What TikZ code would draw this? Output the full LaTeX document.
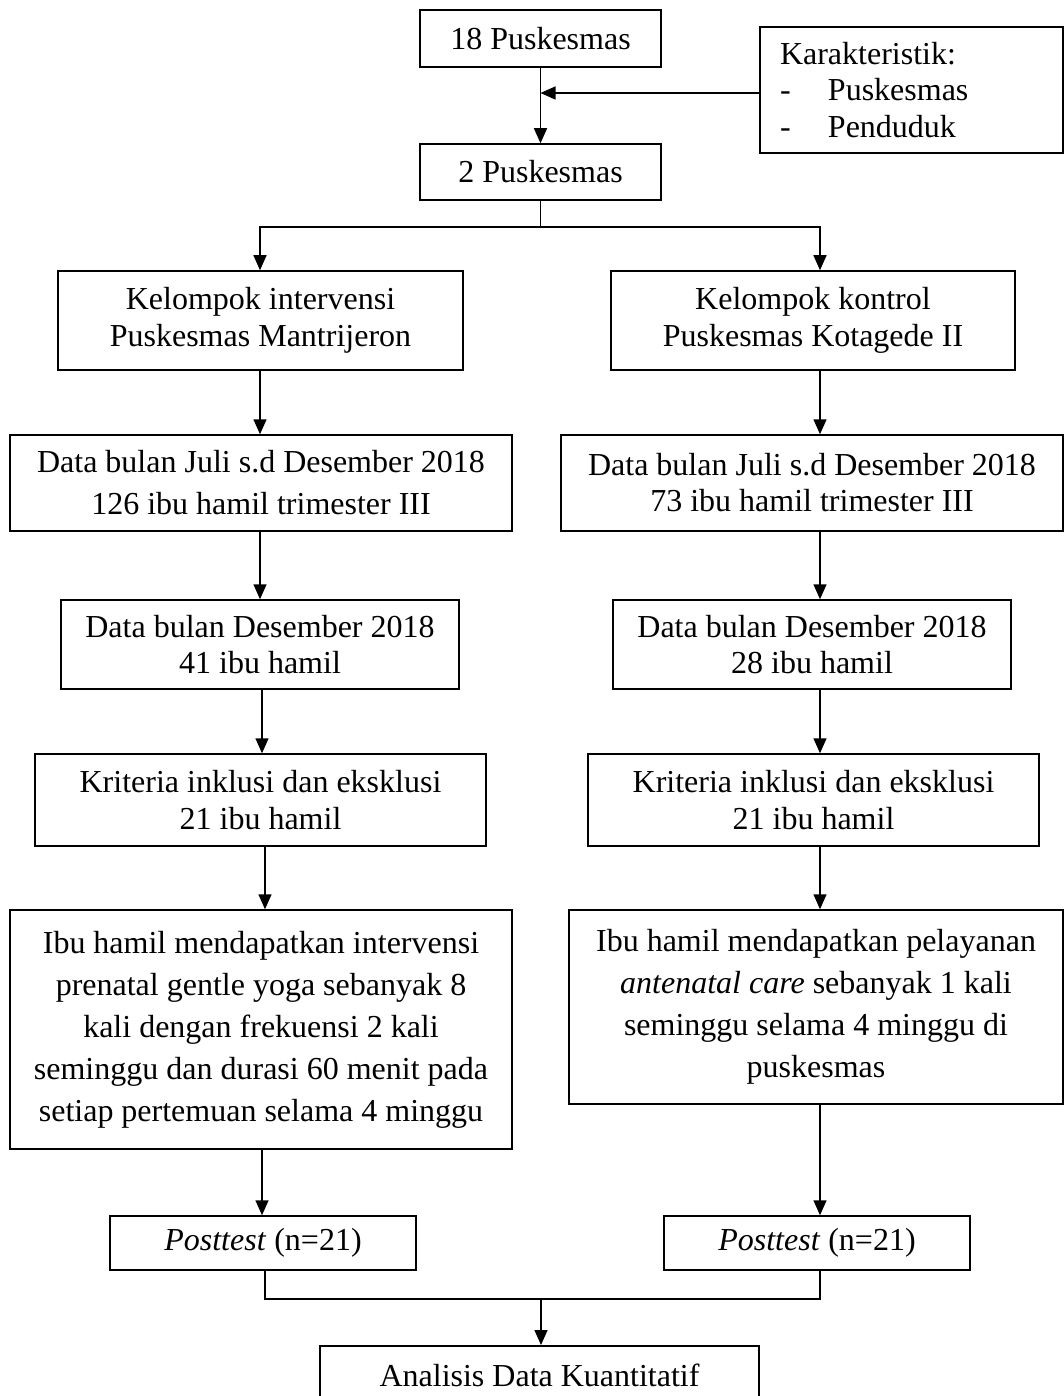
\documentclass[tikz,border=0pt]{standalone}
\usepackage{fontspec}
\setmainfont{Liberation Serif}
\usetikzlibrary{arrows.meta,calc}
\begin{document}
\begin{tikzpicture}[x=1pt,y=1pt,
  box/.style={draw, line width=1.5pt, inner sep=0pt, align=center, font=\fontsize{32}{37}\selectfont},
  arr/.style={line width=1.5pt, -{Triangle[length=15pt,width=13pt]}},
  ln/.style={line width=1.5pt}]
\useasboundingbox (0,0) rectangle (1064,-1396);
\clip (0,0) rectangle (1064,-1396);
\coordinate (colL) at (262,0);
\coordinate (colR) at (820,0);
% top
\node[box, minimum width=241, minimum height=57] (n18) at (540.5,-38.5) {\raisebox{-2pt}{18 Puskesmas}};
\node[box, minimum width=303, minimum height=126, align=left, text width=263, font=\fontsize{32}{36.5}\selectfont] (kar) at (911.5,-90)
  {Karakteristik:\\\makebox[48pt][l]{-}Puskesmas\\\makebox[48pt][l]{-}Penduduk};
\node[box, minimum width=241, minimum height=56] (n2) at (540.5,-172) {\raisebox{-2pt}{2 Puskesmas}};
% left column
\node[box, minimum width=405, minimum height=99] (kL) at (260.5,-320.5) {Kelompok intervensi\\Puskesmas Mantrijeron};
\node[box, minimum width=502, minimum height=96, font=\fontsize{32}{42}\selectfont] (dL1) at (261,-483) {Data bulan Juli s.d Desember 2018\\126 ibu hamil trimester III};
\node[box, minimum width=398, minimum height=89, font=\fontsize{32}{36}\selectfont] (dL2) at (260,-644.5) {Data bulan Desember 2018\\41 ibu hamil};
\node[box, minimum width=451, minimum height=92] (krL) at (260.5,-800) {Kriteria inklusi dan eksklusi\\21 ibu hamil};
\node[box, minimum width=502, minimum height=239, font=\fontsize{32}{42}\selectfont] (iL) at (261,-1029.5)
  {Ibu hamil mendapatkan intervensi\\prenatal gentle yoga sebanyak 8\\kali dengan frekuensi 2 kali\\seminggu dan durasi 60 menit pada\\setiap pertemuan selama 4 minggu};
\node[box, minimum width=306, minimum height=54] (pL) at (263,-1243) {\raisebox{-2pt}{\textit{Posttest} (n=21)}};
% right column
\node[box, minimum width=404, minimum height=99] (kR) at (813,-320.5) {Kelompok kontrol\\Puskesmas Kotagede II};
\node[box, minimum width=502, minimum height=96, font=\fontsize{32}{36}\selectfont] (dR1) at (812,-483) {Data bulan Juli s.d Desember 2018\\73 ibu hamil trimester III};
\node[box, minimum width=398, minimum height=89, font=\fontsize{32}{36}\selectfont] (dR2) at (812,-644.5) {Data bulan Desember 2018\\28 ibu hamil};
\node[box, minimum width=451, minimum height=92] (krR) at (813.5,-800) {Kriteria inklusi dan eksklusi\\21 ibu hamil};
\node[box, minimum width=494, minimum height=194, font=\fontsize{32}{42}\selectfont] (iR) at (816,-1007)
  {Ibu hamil mendapatkan pelayanan\\\textit{antenatal care} sebanyak 1 kali\\seminggu selama 4 minggu di\\puskesmas};
\node[box, minimum width=306, minimum height=54] (pR) at (817,-1243) {\raisebox{-2pt}{\textit{Posttest} (n=21)}};
% bottom
\node[box, minimum width=439, minimum height=60, anchor=north] (ana) at (539.5,-1345) {Analisis Data Kuantitatif};
% connectors
\coordinate (j1) at (540.5,-93);
\draw[arr] (n18) -- (n2);
\draw[arr] (kar.west |- j1) -- (j1);
\coordinate (split) at (540.5,-227);
\draw[ln] (n2) -- (split);
\draw[arr] (split) -| (kL.north -| 260,0);
\draw[arr] (split) -| (kR.north -| colR);
\draw[arr] (kL.south -| 260,0) -- (dL1.north -| 260,0);
\draw[arr] (dL1.south -| 260,0) -- (dL2.north -| 260,0);
\draw[arr] (dL2.south -| colL) -- (krL.north -| colL);
\draw[arr] (krL.south -| 265,0) -- (iL.north -| 265,0);
\draw[arr] (iL.south -| colL) -- (pL.north -| colL);
\draw[arr] (kR.south -| colR) -- (dR1.north -| colR);
\draw[arr] (dR1.south -| colR) -- (dR2.north -| colR);
\draw[arr] (dR2.south -| colR) -- (krR.north -| colR);
\draw[arr] (krR.south -| colR) -- (iR.north -| colR);
\draw[arr] (iR.south -| colR) -- (pR.north -| colR);
\coordinate (join) at (541,-1299);
\draw[ln] (pL.south -| 265,0) |- (join) -| (pR.south -| colR);
\draw[arr] (join) -- (ana.north -| join);
\end{tikzpicture}
\end{document}
